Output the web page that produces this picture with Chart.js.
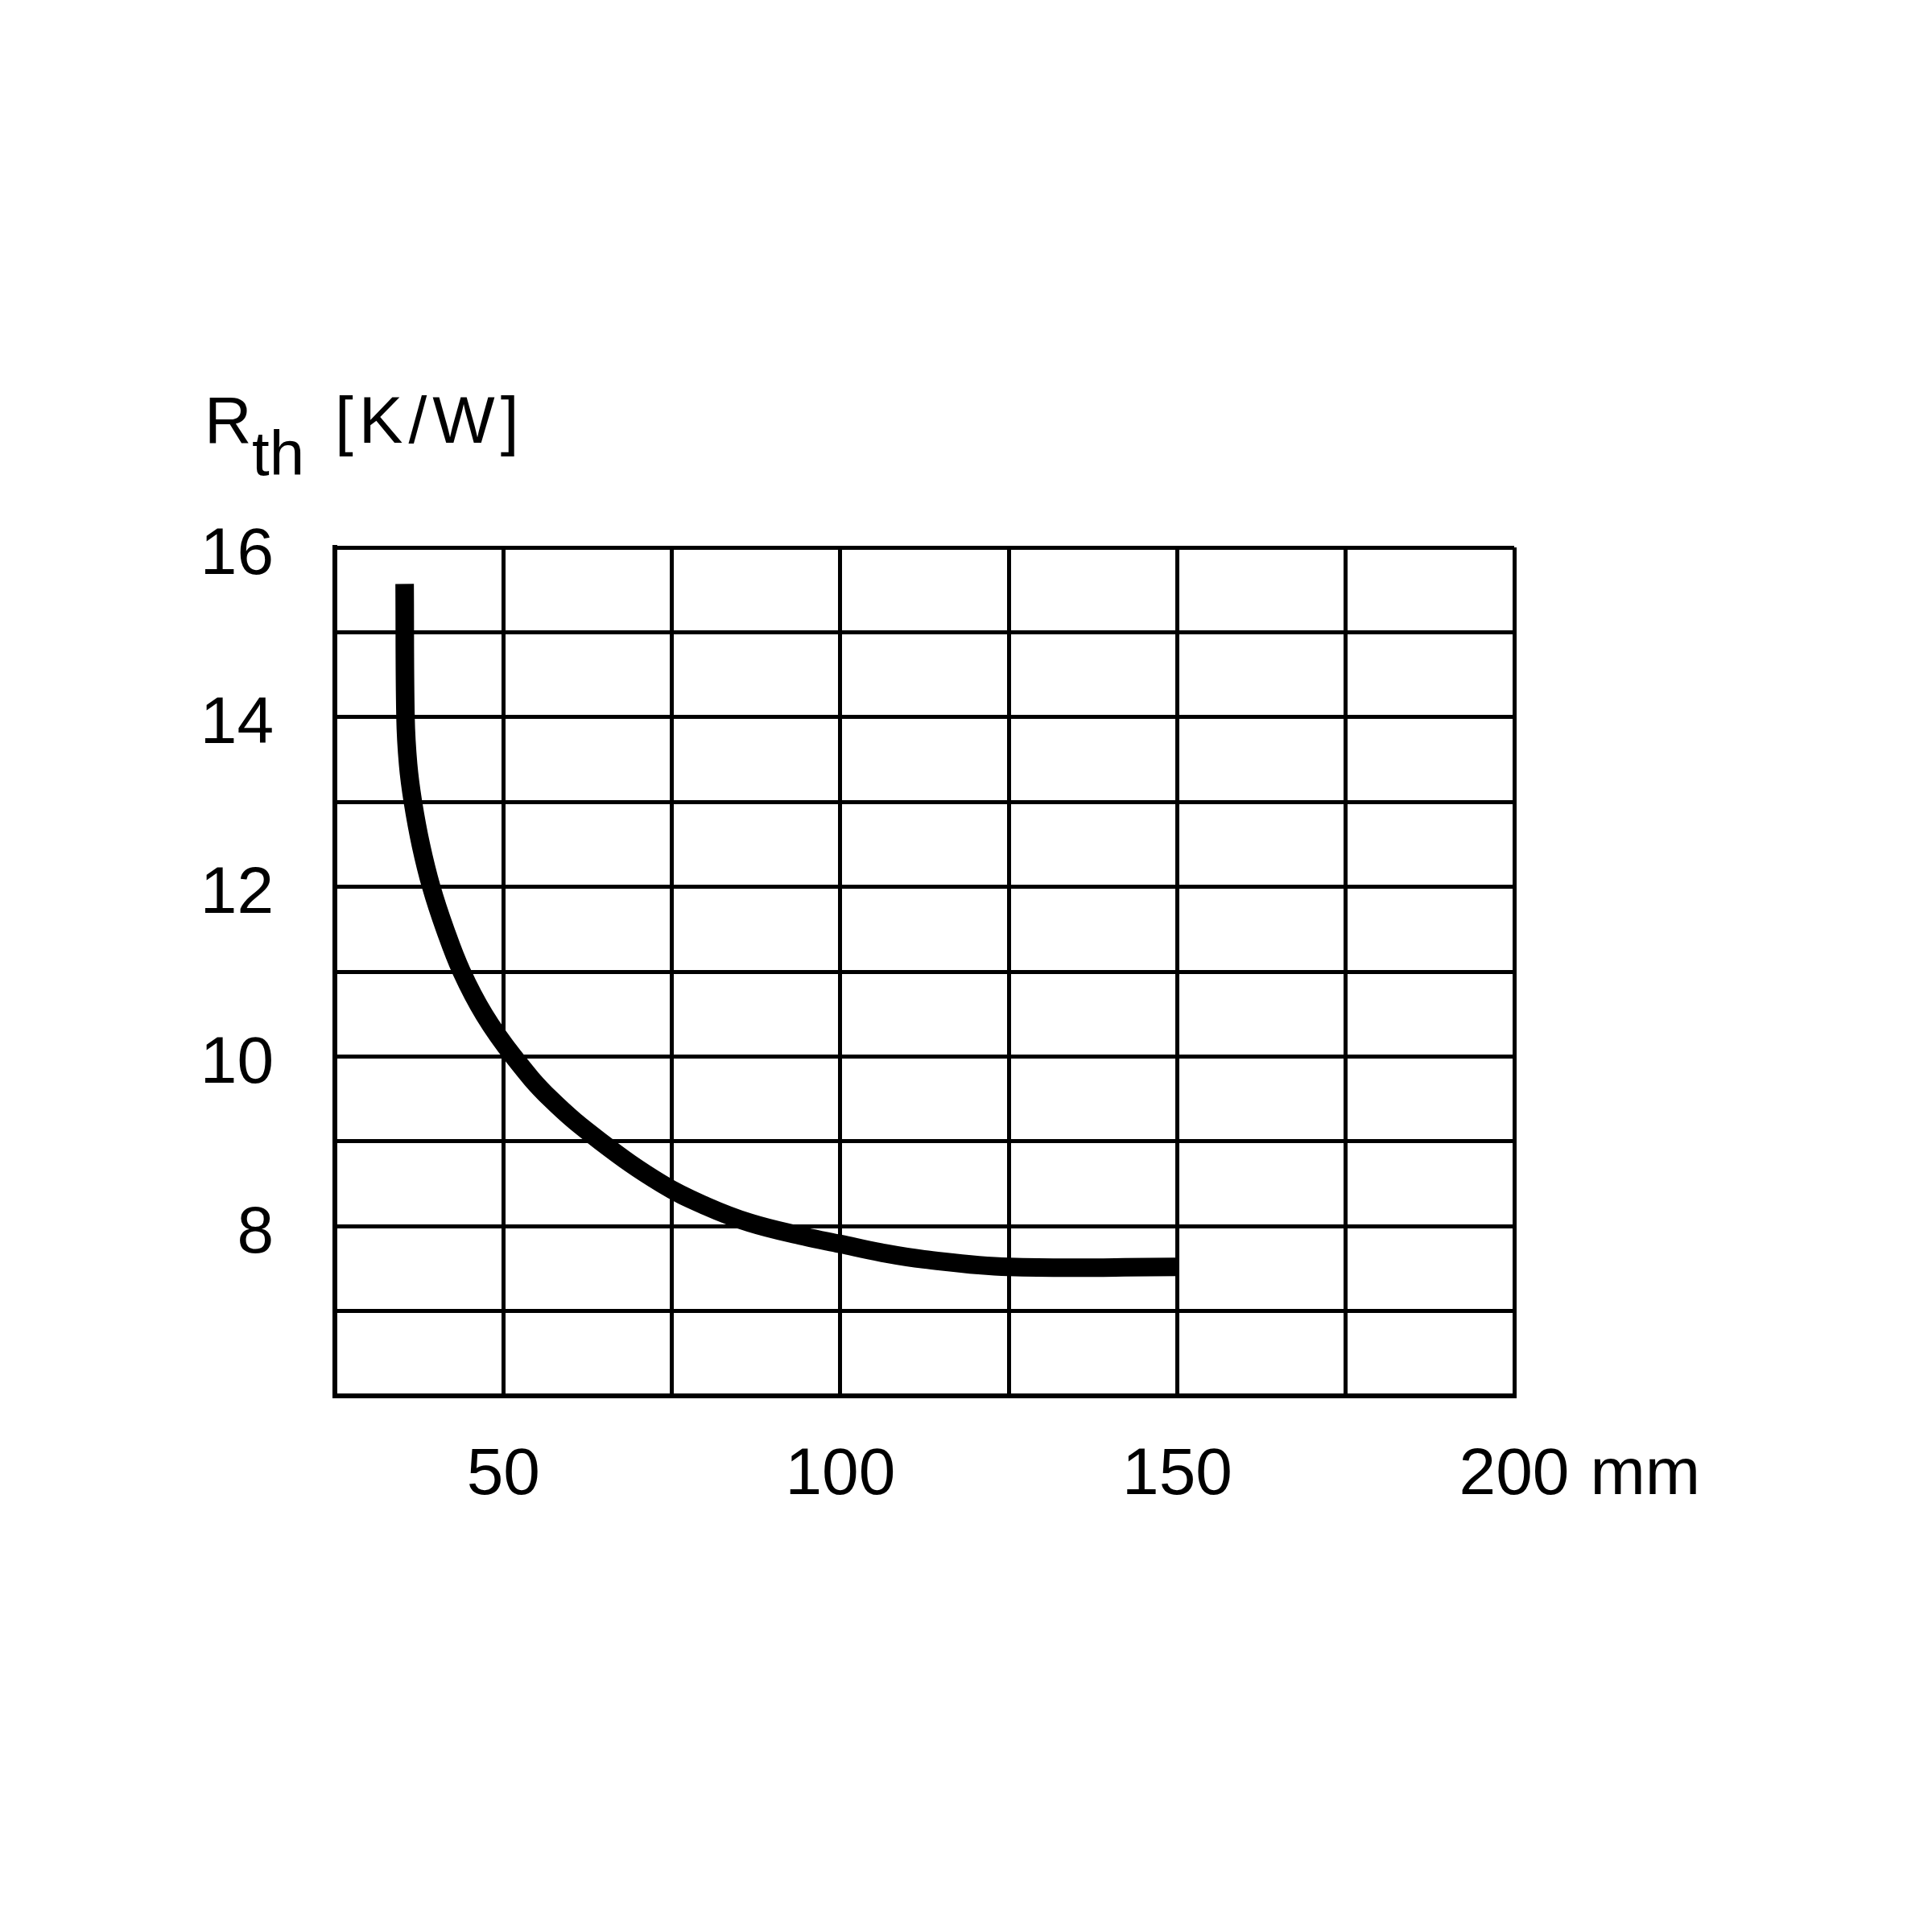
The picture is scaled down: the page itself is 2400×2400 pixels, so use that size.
<!DOCTYPE html>
<html>
<head>
<meta charset="utf-8">
<script src="https://cdn.jsdelivr.net/npm/chart.js@4/dist/chart.umd.min.js"></script>
<style>
  html, body { margin: 0; padding: 0; background: #fff; }
  #wrap { width: 2400px; height: 2400px; }
</style>
</head>
<body>
<div id="wrap"><canvas id="c" width="2400" height="2400"></canvas></div>
<script>
// Data
const lengthMm = [35.35, 35.48, 35.87, 36.58, 37.77, 39.3, 41.35, 43.81, 47.18, 51.5, 57.0, 64.4, 73.5, 80, 86.6, 94.6, 100, 106, 112.4, 125, 150];
const rthValues = [15.57, 14.0, 13.44, 13.0, 12.49, 12.0, 11.5, 11.0, 10.49, 10.0, 9.5, 9.0, 8.5, 8.24, 8.04, 7.88, 7.79, 7.69, 7.61, 7.52, 7.52];
const xTickLabels = [50, 100, 150, 200];
const yTickLabels = [8, 10, 12, 14, 16];
const xUnit = 'mm';
const yTitleMain = 'R';
const yTitleSub = 'th';
const yTitleUnit = '[K/W]';

const FONT = "'Liberation Sans', Arial, Helvetica, sans-serif";
const FS = 82;
const X_PAD = 50;
const points = lengthMm.map((x, i) => ({ x: x, y: rthValues[i] }));

const titlePlugin = {
  id: 'customTexts',
  afterDraw(chart) {
    const ctx = chart.ctx;
    ctx.save();
    ctx.fillStyle = '#000';
    ctx.textAlign = 'left';
    ctx.textBaseline = 'alphabetic';
    ctx.font = '81px ' + FONT;
    ctx.fillText(yTitleMain, 254, 550);
    ctx.font = '78px ' + FONT;
    ctx.fillText(yTitleSub, 313, 590);
    ctx.font = '82px ' + FONT;
    try { ctx.letterSpacing = '7px'; } catch (e) {}
    ctx.fillText(yTitleUnit, 416, 550);
    try { ctx.letterSpacing = '0px'; } catch (e) {}
    // unit after last x tick label
    const xs = chart.scales.x;
    const lastVal = xTickLabels[xTickLabels.length - 1];
    const xLast = xs.getPixelForValue(lastVal);
    ctx.font = FS + 'px ' + FONT;
    const w = ctx.measureText(String(lastVal)).width;
    ctx.textBaseline = 'middle';
    ctx.fillText(xUnit, xLast + w / 2 + 26, xs.top + X_PAD + FS * 1.2 / 2);
    ctx.restore();
  }
};

new Chart(document.getElementById('c'), {
  type: 'line',
  data: {
    datasets: [{
      data: points,
      borderColor: '#000',
      borderWidth: 23,
      borderCapStyle: 'butt',
      borderJoinStyle: 'round',
      pointRadius: 0,
      tension: 0.4,
      fill: false
    }]
  },
  options: {
    responsive: false,
    devicePixelRatio: 1,
    animation: false,
    layout: { padding: { left: 0, top: 680, right: 519, bottom: 0 } },
    plugins: { legend: { display: false }, tooltip: { enabled: false }, title: { display: false } },
    scales: {
      x: {
        type: 'linear',
        min: 25,
        max: 200,
        afterFit: (s) => { s.height = 666; },
        grid: { color: '#000', lineWidth: 5, drawTicks: false },
        border: { color: '#000', width: 6 },
        ticks: {
          stepSize: 25,
          autoSkip: false,
          maxRotation: 0,
          padding: X_PAD,
          color: '#000',
          font: { family: FONT, size: FS },
          callback: (v) => xTickLabels.includes(v) ? String(v) : ''
        }
      },
      y: {
        type: 'linear',
        min: 6,
        max: 16,
        afterFit: (s) => { s.width = 416; },
        grid: { color: '#000', lineWidth: 5, drawTicks: false },
        border: { color: '#000', width: 6 },
        ticks: {
          stepSize: 1,
          autoSkip: false,
          padding: 76,
          labelOffset: 10,
          color: '#000',
          font: { family: FONT, size: FS },
          callback: (v) => yTickLabels.includes(v) ? String(v) : ''
        }
      }
    }
  },
  plugins: [titlePlugin]
});
</script>
</body>
</html>
